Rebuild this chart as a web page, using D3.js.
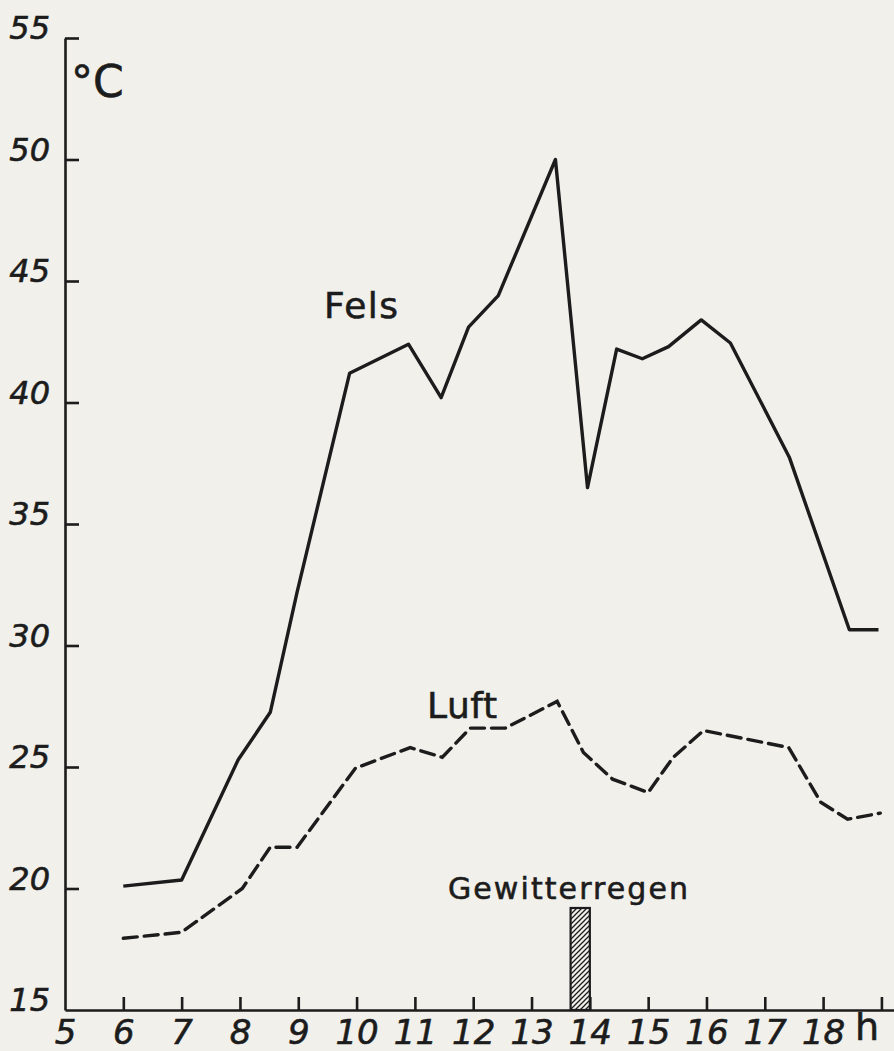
<!DOCTYPE html>
<html>
<head>
<meta charset="utf-8">
<script src="https://cdn.jsdelivr.net/npm/d3@7"></script>
<style>
body { margin: 0; background: #f1f0eb; }
svg { display: block; }
text { font-family: "DejaVu Sans", sans-serif; fill: #1c1c1c; stroke: #1c1c1c; stroke-width: 0.6; }
</style>
</head>
<body>
<svg id="chart" width="894" height="1051"></svg>
<script>
// hours on the x axis, temperatures in degrees C
var hourTicks = [5,6,7,8,9,10,11,12,13,14,15,16,17,18,19];
var tempTicks = [15,20,25,30,35,40,45,50,55];

// Fels (rock surface) - solid line
var felsHour = [6.0, 7.0, 7.97, 8.52, 8.98, 9.88, 10.89, 11.45, 11.92, 12.43, 13.41, 13.96, 14.46, 14.9, 15.35, 15.91, 16.41, 17.42, 18.45, 18.95];
var felsTemp = [20.1, 20.35, 25.3, 27.25, 32.2, 41.2, 42.4, 40.2, 43.1, 44.4, 50.0, 36.5, 42.2, 41.8, 42.3, 43.4, 42.45, 37.75, 30.65, 30.65];

// Luft (air) - dashed line
var luftHour = [6.0, 7.0, 8.04, 8.52, 8.98, 9.98, 10.92, 11.47, 11.95, 12.55, 13.44, 13.89, 14.39, 15.0, 15.43, 15.95, 17.41, 17.96, 18.42, 18.98];
var luftTemp = [17.95, 18.2, 20.0, 21.7, 21.7, 24.95, 25.8, 25.4, 26.6, 26.6, 27.7, 25.6, 24.5, 23.95, 25.4, 26.5, 25.8, 23.55, 22.85, 23.1];

// thunderstorm rain interval (hours)
var rainStart = 13.67, rainEnd = 14.0;

var ink = "#1c1c1c";
var svg = d3.select("#chart");

var x = d3.scaleLinear().domain([5, 19.25]).range([65, 896]);
var y = d3.scaleLinear().domain([15, 55]).range([1010, 38]);

// hatch pattern for the rain bar
var defs = svg.append("defs");
var pat = defs.append("pattern")
    .attr("id", "hatch")
    .attr("patternUnits", "userSpaceOnUse")
    .attr("width", 5).attr("height", 5);
pat.append("path")
    .attr("d", "M-1,6 L6,-1 M-1,1 L1,-1 M4,6 L6,4")
    .attr("stroke", ink).attr("stroke-width", 1.3);

// x axis
var xAxis = svg.append("g")
    .attr("transform", "translate(0," + y(15) + ")")
    .call(d3.axisBottom(x)
        .tickValues(hourTicks)
        .tickSizeInner(-13).tickSizeOuter(0).tickPadding(10)
        .tickFormat(function(d) { return d === 19 ? "" : d; }));
xAxis.selectAll(".tick").filter(function(d) { return d === 5; }).select("line").remove();

// y axis
var yAxis = svg.append("g")
    .attr("transform", "translate(" + x(5) + ",0)")
    .call(d3.axisLeft(y)
        .tickValues(tempTicks)
        .tickSizeInner(-14).tickSizeOuter(0).tickPadding(15));
yAxis.selectAll(".tick").filter(function(d) { return d === 15; }).select("line").remove();

svg.selectAll(".domain, .tick line")
    .attr("stroke", ink).attr("stroke-width", 2.6);

xAxis.selectAll("text")
    .attr("font-size", 34).attr("font-style", "oblique")
    .attr("fill", ink);
yAxis.selectAll("text")
    .attr("font-size", 32).attr("font-style", "oblique")
    .attr("dy", "0.02em").attr("fill", ink);

// unit labels
svg.append("text").attr("x", 855).attr("y", 1040)
    .attr("font-size", 38).text("h");
svg.append("text").attr("x", 71).attr("y", 97)
    .attr("font-size", 44).text("°C");

// rain bar
svg.append("rect")
    .attr("x", x(rainStart))
    .attr("y", y(15) - 102)
    .attr("width", x(rainEnd) - x(rainStart))
    .attr("height", 102)
    .attr("fill", "url(#hatch)")
    .attr("stroke", ink).attr("stroke-width", 2.2);

// series lines
var line = d3.line()
    .x(function(d) { return x(d[0]); })
    .y(function(d) { return y(d[1]); });

var fels = d3.zip(felsHour, felsTemp);
var luft = d3.zip(luftHour, luftTemp);

svg.append("path")
    .datum(fels)
    .attr("d", line)
    .attr("fill", "none")
    .attr("stroke", ink).attr("stroke-width", 3.4)
    .attr("stroke-linejoin", "round");

svg.append("path")
    .datum(luft)
    .attr("d", line)
    .attr("fill", "none")
    .attr("stroke", ink).attr("stroke-width", 3.4)
    .attr("stroke-dasharray", "14,7")
    .attr("stroke-linecap", "round");

// series names
svg.append("text").attr("x", 324).attr("y", 318)
    .attr("font-size", 36).attr("textLength", 74).text("Fels");
svg.append("text").attr("x", 427).attr("y", 718)
    .attr("font-size", 36).attr("textLength", 70).text("Luft");
svg.append("text").attr("x", 448).attr("y", 899)
    .attr("font-size", 30).attr("textLength", 240).text("Gewitterregen");
</script>
</body>
</html>
